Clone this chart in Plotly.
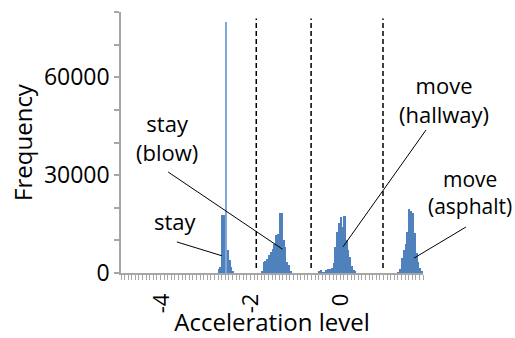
import plotly.graph_objects as go

# ---------------- data ----------------
BIN_WIDTH = 0.04
# clusters: first bin centre and bin counts
stay_start = -2.72
stay_counts = [1200, 1800, 17800, 17800, 0, 7000, 4000, 1800, 400]
stay_peak_x = [-2.56]
stay_peak_count = [76900]

blow_start = -1.76
blow_counts = [500, 3500, 3800, 4200, 5500, 6500, 7500, 9000, 11500, 12000,
               18400, 18400, 10000, 8000, 3500, 2500, 500]

hall_start = -0.48
hall_counts = [600, 800, 300, 200, 1000, 1200, 1200, 1500, 3000, 8100, 12700,
               15300, 17300, 14200, 17500, 10200, 7000, 5000, 2000, 900, 600]

asph_start = 1.28
asph_counts = [300, 1200, 4500, 7000, 9000, 12700, 19700, 19000, 18400, 12300,
               6000, 3500, 1500, 500]

thresholds = [-1.89, -0.67, 0.93]
x_tick_vals = [-4, -2, 0]
x_tick_text = ["-4", "-2", "0"]
y_tick_vals = [0, 10000, 20000, 30000, 40000, 50000, 60000, 70000, 80000]
y_tick_text = ["0", "", "", "30000", "", "", "60000", "", ""]

labels = ["stay", "stay<br>(blow)", "move<br>(hallway)", "move<br>(asphalt)"]

# ---------------- build ----------------
xs, ys = [], []
for start, counts in [(stay_start, stay_counts), (blow_start, blow_counts),
                      (hall_start, hall_counts), (asph_start, asph_counts)]:
    for i, c in enumerate(counts):
        xs.append(round(start + BIN_WIDTH * i, 4))
        ys.append(c)

FONT = "Open Sans"
GRAY = "#a6a6a6"

fig = go.Figure()
fig.add_trace(go.Bar(x=xs, y=ys, width=BIN_WIDTH, marker=dict(color="#4f81bd", line=dict(width=0)),
                     showlegend=False, hoverinfo="skip"))
fig.add_trace(go.Bar(x=stay_peak_x, y=stay_peak_count, width=BIN_WIDTH,
                     marker=dict(color="#7fa7d9", line=dict(width=0)), showlegend=False,
                     hoverinfo="skip"))

for t in thresholds:
    fig.add_shape(type="line", xref="x", yref="y", x0=t, x1=t, y0=1500, y1=78000,
                  line=dict(color="black", width=1.5, dash="5px,3px"))

# annotation text positions (paper) and leader lines (paper)
text_pos = [(0.179, 0.199), (0.152, 0.521), (1.07, 0.665), (1.154, 0.307)]
text_size = [22, 22, 22, 21]
leaders = [((0.185, 0.119), (0.334, 0.066)),
           ((0.156, 0.387), (0.535, 0.091)),
           ((1.010, 0.548), (0.735, 0.100)),
           ((1.142, 0.176), (0.970, 0.057))]

for (tx, ty), lab, sz in zip(text_pos, labels, text_size):
    fig.add_annotation(xref="paper", yref="paper", x=tx, y=ty, text=lab, showarrow=False,
                       font=dict(family=FONT, size=sz, color="black"), align="center",
                       xanchor="center", yanchor="middle")
for (p0, p1) in leaders:
    fig.add_shape(type="line", xref="paper", yref="paper", x0=p0[0], y0=p0[1], x1=p1[0], y1=p1[1],
                  line=dict(color="black", width=1))

fig.update_layout(
    width=515, height=338,
    margin=dict(l=121, r=92, t=12, b=65),
    plot_bgcolor="white", paper_bgcolor="white",
    bargap=0,
    barmode="overlay",
    font=dict(family=FONT, color="black"),
    xaxis=dict(range=[-4.90, 1.82], tickmode="array", tickvals=x_tick_vals, ticktext=x_tick_text,
               tickangle=-90, ticks="", showgrid=False, zeroline=False, automargin=False,
               showline=True, linecolor=GRAY, linewidth=1.5,
               tickfont=dict(family=FONT, size=22, color="black"),
               ticklabelstandoff=10,
               minor=dict(tick0=-4.90, dtick=0.08, ticks="outside", ticklen=5, tickcolor=GRAY,
                          tickwidth=1, showgrid=False),
               title=dict(text="Acceleration level", font=dict(family=FONT, size=24, color="black"),
                          standoff=2)),
    yaxis=dict(range=[0, 80000], tickmode="array", tickvals=y_tick_vals, ticktext=y_tick_text,
               ticks="outside", ticklen=5, tickcolor=GRAY, tickwidth=1.5, automargin=False,
               showgrid=False, zeroline=False, showline=True, linecolor=GRAY, linewidth=1.5,
               tickfont=dict(family=FONT, size=23, color="black"),
               title=dict(text="Frequency", font=dict(family=FONT, size=24, color="black"),
                          standoff=4)),
)

fig.write_html("out.html", config={"displayModeBar": False},
               post_script="document.body.style.margin='0';")
